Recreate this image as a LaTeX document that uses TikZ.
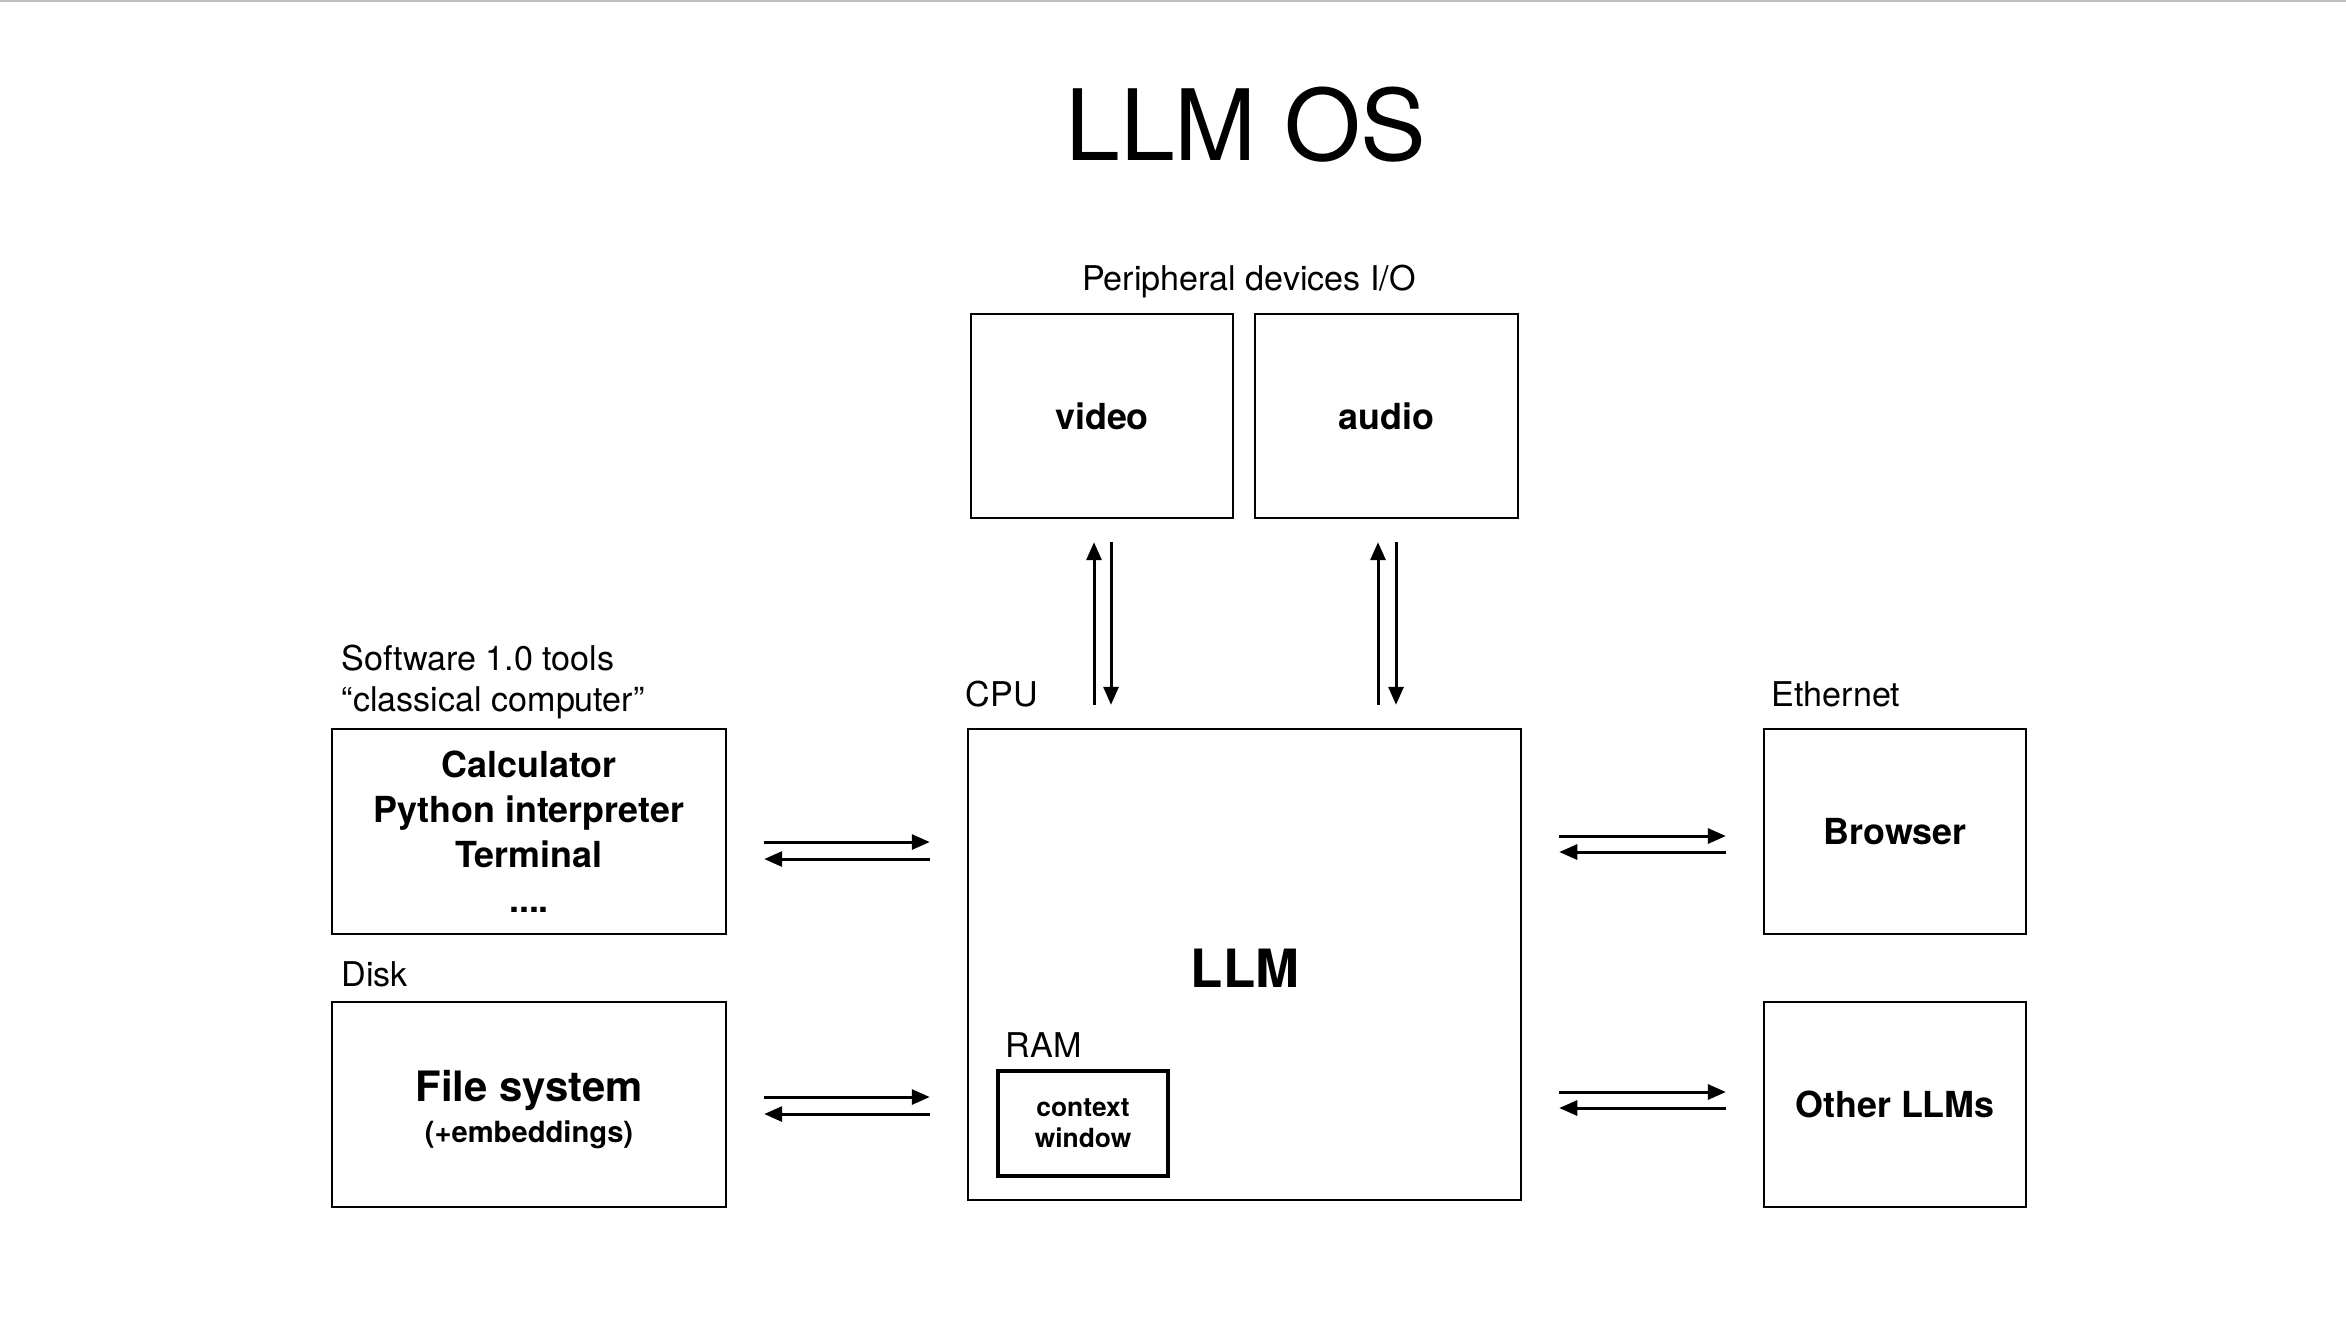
\documentclass[tikz,border=0pt]{standalone}
\usepackage{fontspec}
\setmainfont{TeX Gyre Heros}
\usetikzlibrary{arrows.meta,calc}
\begin{document}
\begin{tikzpicture}[x=0.01cm,y=-0.01cm,
  box/.style={draw, line width=0.6pt, inner sep=0pt, rectangle, align=center},
  lbl/.style={inner sep=0pt, font=\fontsize{9.7}{11.6}\selectfont},
  bigbold/.style={font=\fontsize{10.2}{12.8}\selectfont\bfseries},
  arr/.style={line width=0.85pt, -{Triangle[length=0.18cm,width=0.15cm]}},
  vgap/.style={shorten <=0.23cm, shorten >=0.23cm},
  hgap/.style={shorten <=0.37cm, shorten >=0.37cm}]
\useasboundingbox (0,0) rectangle (2346,1320);
\fill[white] (0,0) rectangle (2346,1320);
\draw[black!25, line width=0.6pt] (0,1) -- (2346,1);

% title
\node[inner sep=0pt, anchor=base, font=\fontsize{28}{34}\selectfont] (title) at (1246,160) {LLM OS};

% labels
\node[lbl, anchor=base] (periph) at (1249,290) {Peripheral devices I/O};
\node[lbl, anchor=base west] (sw1) at (341,670) {Software 1.0 tools};
\node[lbl, anchor=base west] (sw2) at (341,711) {“classical computer”};
\node[lbl, anchor=base west] (cpu) at (965,706) {CPU};
\node[lbl, anchor=base west] (eth) at (1771,706) {Ethernet};
\node[lbl, anchor=base west] (disk) at (341,986) {Disk};
\node[lbl, anchor=base west] (ram) at (1005,1057) {RAM};

% boxes
\node[box, bigbold, minimum width=2.62cm, minimum height=2.04cm] (video) at (1102,416) {video};
\node[box, bigbold, minimum width=2.63cm, minimum height=2.04cm] (audio) at (1386.5,416) {audio};
\node[box, minimum width=5.53cm, minimum height=4.71cm] (llm) at (1244.5,964.5) {};
\node[inner sep=0pt, font=\fontsize{15}{17}\selectfont\bfseries] (llmtext) at (1245,968) {LLM};
\node[box, line width=1.05pt, minimum width=1.70cm, minimum height=1.05cm, font=\fontsize{7.5}{8.8}\selectfont\bfseries] (ctx) at (1083,1123.5) {context\\window};
\node[box, bigbold, minimum width=3.94cm, minimum height=2.05cm] (calc) at (529,831.5) {Calculator\\Python interpreter\\Terminal\\....};
\node[box, minimum width=3.94cm, minimum height=2.05cm] (fs) at (529,1104.5) {};
\node[inner sep=0pt, anchor=base, font=\fontsize{11.9}{14}\selectfont\bfseries] (fstitle) at (529,1101) {File system};
\node[inner sep=0pt, anchor=base, font=\fontsize{8.3}{10}\selectfont\bfseries] (fssub) at (529,1142) {(+embeddings)};
\node[box, bigbold, minimum width=2.62cm, minimum height=2.05cm] (browser) at (1895,831.5) {Browser};
\node[box, bigbold, minimum width=2.62cm, minimum height=2.05cm] (other) at (1895,1104.5) {Other LLMs};

% vertical arrows: video / audio <-> llm
\draw[arr, vgap] ([xshift=-0.08cm]video.south |- llm.north) -- ([xshift=-0.08cm]video.south);
\draw[arr, vgap] ([xshift=0.09cm]video.south) -- ([xshift=0.09cm]video.south |- llm.north);
\draw[arr, vgap] ([xshift=-0.085cm]audio.south |- llm.north) -- ([xshift=-0.085cm]audio.south);
\draw[arr, vgap] ([xshift=0.095cm]audio.south) -- ([xshift=0.095cm]audio.south |- llm.north);

% horizontal arrows: left side
\draw[arr, hgap] ([yshift=-0.105cm]calc.east) -- ([yshift=-0.105cm]calc.east -| llm.west);
\draw[arr, hgap] ([yshift=-0.275cm]calc.east -| llm.west) -- ([yshift=-0.275cm]calc.east);
\draw[arr, hgap] ([yshift=0.075cm]fs.east) -- ([yshift=0.075cm]fs.east -| llm.west);
\draw[arr, hgap] ([yshift=-0.095cm]fs.east -| llm.west) -- ([yshift=-0.095cm]fs.east);

% horizontal arrows: right side
\draw[arr, hgap] ([yshift=-0.045cm]browser.west -| llm.east) -- ([yshift=-0.045cm]browser.west);
\draw[arr, hgap] ([yshift=-0.205cm]browser.west) -- ([yshift=-0.205cm]browser.west -| llm.east);
\draw[arr, hgap] ([yshift=0.125cm]other.west -| llm.east) -- ([yshift=0.125cm]other.west);
\draw[arr, hgap] ([yshift=-0.035cm]other.west) -- ([yshift=-0.035cm]other.west -| llm.east);
\end{tikzpicture}
\end{document}
